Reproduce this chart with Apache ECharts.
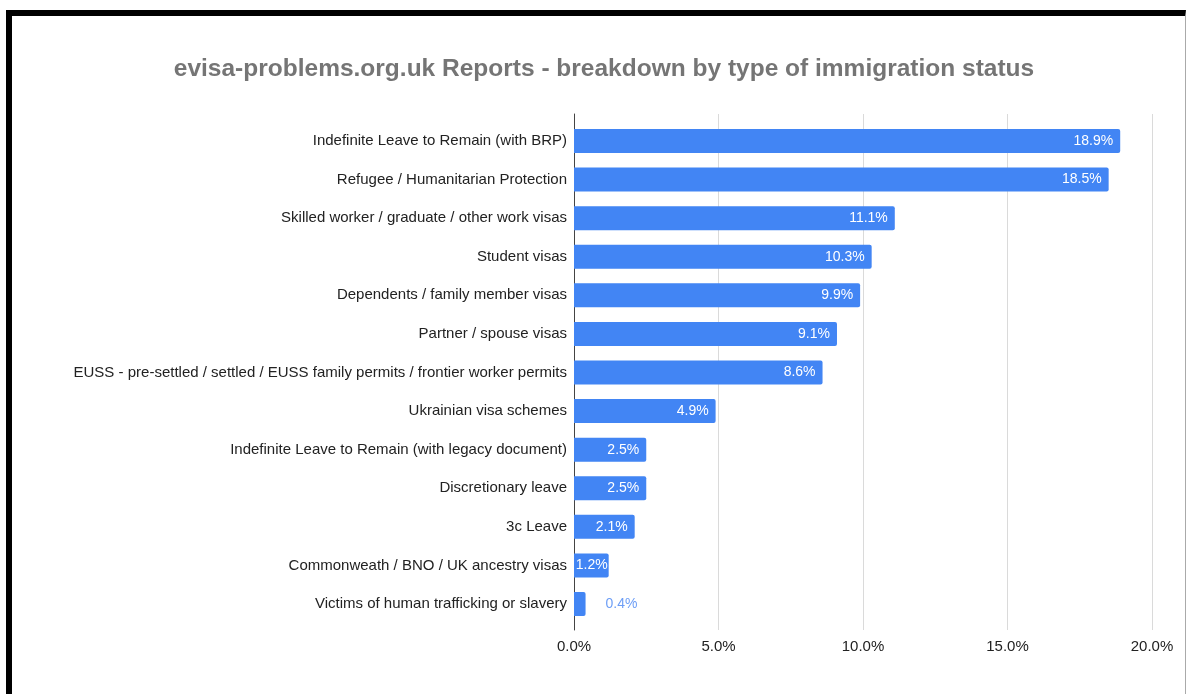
<!DOCTYPE html>
<html>
<head>
<meta charset="utf-8">
<script src="https://cdn.jsdelivr.net/npm/echarts@6/dist/echarts.min.js"></script>
<style>
  html, body { margin: 0; padding: 0; background: #fff; }
  #wrap { position: relative; width: 1186px; height: 694px; overflow: hidden; }
  #chart { position: absolute; left: 0; top: 0; width: 1186px; height: 694px; }
  #frame { position: absolute; left: 6px; top: 10px; width: 1180px; height: 684px; box-sizing: border-box;
           border-top: 6px solid #000; border-left: 6px solid #000; border-right: 1px solid #aaa; pointer-events: none; }
</style>
</head>
<body>
<div id="wrap">
  <div id="chart"></div>
  <div id="frame"></div>
</div>
<script>
const titleText = 'evisa-problems.org.uk Reports - breakdown by type of immigration status';
const categories = [
  'Indefinite Leave to Remain (with BRP)',
  'Refugee / Humanitarian Protection',
  'Skilled worker / graduate / other work visas',
  'Student visas',
  'Dependents / family member visas',
  'Partner / spouse visas',
  'EUSS - pre-settled / settled / EUSS family permits / frontier worker permits',
  'Ukrainian visa schemes',
  'Indefinite Leave to Remain (with legacy document)',
  'Discretionary leave',
  '3c Leave',
  'Commonweath / BNO / UK ancestry visas',
  'Victims of human trafficking or slavery'
];
const values = [18.9, 18.5, 11.1, 10.3, 9.9, 9.1, 8.6, 4.9, 2.5, 2.5, 2.1, 1.2, 0.4];
const xTicks = [0, 5, 10, 15, 20];

const font = '"Liberation Sans", Arial, sans-serif';
const barColor = '#4285f4';

const seriesData = values.map(function (v) {
  const item = { value: v };
  if (v < 1) {
    item.label = { position: 'right', distance: 20, color: '#6d9ef6' };
  } else if (v < 1.5) {
    item.label = { position: 'insideRight', distance: 1 };
  }
  return item;
});

const chart = echarts.init(document.getElementById('chart'), null, { renderer: 'canvas' });
chart.setOption({
  backgroundColor: '#fff',
  animation: false,
  title: {
    text: titleText,
    left: 599,
    textAlign: 'center',
    top: 52,
    textStyle: { fontFamily: font, fontSize: 24.5, fontWeight: 'bold', color: '#757575' }
  },
  grid: [
    { left: 574, right: 34, top: 114, bottom: 64 },
    { left: 574, right: 34, top: 121.7, bottom: 70.7 }
  ],
  xAxis: [
    {
      gridIndex: 0, type: 'value', min: xTicks[0], max: xTicks[xTicks.length - 1], interval: 5,
      axisLine: { show: false }, axisTick: { show: false },
      axisLabel: { margin: 9, color: '#222', fontFamily: font, fontSize: 15,
                   formatter: function (v) { return v.toFixed(1) + '%'; } },
      splitLine: { show: true, lineStyle: { color: '#dadada', width: 1 } }
    },
    {
      gridIndex: 1, type: 'value', min: xTicks[0], max: xTicks[xTicks.length - 1], show: false
    }
  ],
  yAxis: [
    {
      gridIndex: 0, type: 'value', min: 0, max: 1,
      axisLine: { show: true, lineStyle: { color: '#444', width: 1 } },
      axisTick: { show: false }, axisLabel: { show: false }, splitLine: { show: false }
    },
    {
      gridIndex: 1, type: 'category', data: categories, inverse: true,
      axisLine: { show: false }, axisTick: { show: false },
      axisLabel: { margin: 7, color: '#222', fontFamily: font, fontSize: 15 }
    }
  ],
  series: [{
    type: 'bar',
    xAxisIndex: 1, yAxisIndex: 1,
    data: seriesData,
    barWidth: 24,
    itemStyle: { color: barColor, borderRadius: [0, 2, 2, 0] },
    label: {
      show: true, position: 'insideRight', distance: 7, color: '#fff',
      fontFamily: font, fontSize: 14,
      formatter: function (p) { return p.value.toFixed(1) + '%'; }
    }
  }]
});
</script>
</body>
</html>
